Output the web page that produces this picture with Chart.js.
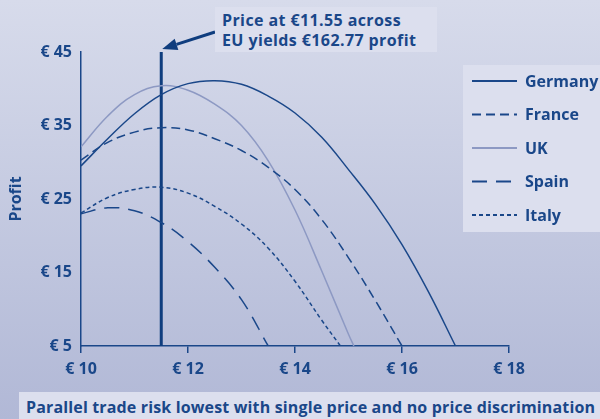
<!DOCTYPE html>
<html>
<head>
<meta charset="utf-8">
<script src="https://cdn.jsdelivr.net/npm/chart.js@4"></script>
<style>
  body { margin: 0; }
  #wrap {
    position: relative; width: 600px; height: 419px; overflow: hidden;
    background: linear-gradient(to bottom, #d7dbeb, #b1b8d6);
    font-family: "Open Sans", sans-serif; font-weight: 700; color: #1a4789;
  }
  #wrap canvas { position: absolute; left: 0; top: 0; }
  .note {
    position: absolute; left: 215px; top: 7px; width: 215px; height: 42px;
    padding: 3px 0 0 7px; background: #dcdfee; font-size: 16px; line-height: 20px;
    letter-spacing: 0.4px;
  }
  .caption {
    position: absolute; left: 19px; top: 392px; width: 574px; height: 25px;
    padding: 2px 0 0 7px; background: #dcdfee; font-size: 16px; line-height: 27px;
    white-space: nowrap; letter-spacing: 0.15px;
  }
</style>
</head>
<body>
<div id="wrap">
  <canvas id="myChart" width="600" height="419"></canvas>
  <div class="note">Price at €11.55 across<br>EU yields €162.77 profit</div>
  <div class="caption">Parallel trade risk lowest with single price and no price discrimination</div>
</div>
<script>
// values (price in €, profit in €)
const germanyPrice = [10, 10.5, 11, 11.5, 12, 12.5, 13, 13.5, 14, 14.5, 15, 15.5, 16, 16.5, 17];
const germanyProfit = [29.5, 33.2, 36.6, 39.2, 40.7, 41.1, 40.6, 39.0, 36.7, 33.4, 29.0, 24.3, 18.8, 12.3, 5];
const francePrice = [10, 10.5, 11, 11.5, 12, 12.5, 13, 13.5, 14, 14.5, 15, 15.5, 16];
const franceProfit = [30.3, 32.7, 34.1, 34.7, 34.4, 33.2, 31.6, 29.3, 26.3, 22.2, 17.0, 11.2, 5];
const ukPrice = [10, 10.5, 11, 11.5, 12, 12.5, 13, 13.5, 14, 14.5, 15, 15.1];
const ukProfit = [32.1, 36.3, 39.2, 40.4, 39.8, 37.9, 35.0, 30.2, 23.5, 15.2, 6.6, 5];
const spainPrice = [10, 10.5, 11, 11.5, 12, 12.5, 13, 13.5];
const spainProfit = [23.0, 23.8, 23.4, 21.8, 19.2, 15.7, 11.3, 5];
const italyPrice = [10, 10.5, 11, 11.5, 12, 12.5, 13, 13.5, 14, 14.5, 14.85];
const italyProfit = [23.1, 25.2, 26.3, 26.6, 25.8, 24.0, 21.6, 18.3, 13.8, 8.5, 5];
const singlePrice = 11.5;
const xTicks = [10, 12, 14, 16, 18];
const yTicks = [5, 15, 25, 35, 45];

const BLUE = '#1a4789';
const UK_BLUE = '#8d99c3';
const BOX = '#dcdfee';
const FONT = { family: '"Open Sans", sans-serif', weight: 'bold', size: 16 };

function pts(xs, ys) {
  return xs.map((x, i) => ({ x: x, y: ys[i] }));
}

function series(label, xs, ys, color, dash) {
  return {
    label: label,
    data: pts(xs, ys),
    borderColor: color,
    borderWidth: 1.5,
    borderDash: dash,
    pointRadius: 0,
    fill: false,
    tension: 0.4
  };
}

const datasets = [
  series('Germany', germanyPrice, germanyProfit, BLUE, []),
  series('France', francePrice, franceProfit, BLUE, [9, 5]),
  series('UK', ukPrice, ukProfit, UK_BLUE, []),
  series('Spain', spainPrice, spainProfit, BLUE, [15, 9]),
  series('Italy', italyPrice, italyProfit, BLUE, [4, 3]),
  {
    label: '',
    data: [{ x: singlePrice, y: yTicks[yTicks.length - 1] }, { x: singlePrice, y: yTicks[0] }],
    borderColor: '#0f3d7e',
    borderWidth: 3,
    pointRadius: 0,
    fill: false
  }
];

// legend box drawn on the right, over the plot
const sideLegend = {
  id: 'sideLegend',
  afterDraw(chart) {
    const c = chart.ctx;
    c.save();
    c.fillStyle = BOX;
    c.fillRect(463, 65, 137, 167);
    chart.data.datasets.forEach((ds, i) => {
      if (!ds.label) return;
      const y = 81 + i * 33.5;
      c.strokeStyle = ds.borderColor;
      c.lineWidth = 2;
      c.setLineDash(ds.borderDash || []);
      c.beginPath();
      c.moveTo(472, y);
      c.lineTo(517, y);
      c.stroke();
      c.setLineDash([]);
      c.fillStyle = BLUE;
      c.font = 'bold 16px "Open Sans"';
      c.textBaseline = 'middle';
      c.fillText(ds.label, 525, y + 1);
    });
    c.restore();
  }
};

// arrow from the note to the top of the single price line
const arrow = {
  id: 'arrow',
  afterDraw(chart) {
    const c = chart.ctx;
    const tx = chart.scales.x.getPixelForValue(singlePrice) + 1;
    const ty = chart.scales.y.getPixelForValue(yTicks[yTicks.length - 1]) - 3;
    const sx = 215, sy = 32;
    const ang = Math.atan2(ty - sy, tx - sx);
    const hx = tx - 15 * Math.cos(ang), hy = ty - 15 * Math.sin(ang);
    c.save();
    c.strokeStyle = '#0f3d7e';
    c.fillStyle = '#0f3d7e';
    c.lineWidth = 3;
    c.beginPath();
    c.moveTo(sx, sy);
    c.lineTo(hx, hy);
    c.stroke();
    c.beginPath();
    c.moveTo(tx, ty);
    c.lineTo(hx - 6 * Math.sin(ang), hy + 6 * Math.cos(ang));
    c.lineTo(hx + 6 * Math.sin(ang), hy - 6 * Math.cos(ang));
    c.closePath();
    c.fill();
    c.restore();
  }
};

const config = {
  type: 'line',
  data: { datasets: datasets },
  options: {
    responsive: false,
    animation: false,
    layout: { padding: { top: 52, right: 91, bottom: 0, left: 0 } },
    plugins: { legend: { display: false }, tooltip: { enabled: false } },
    scales: {
      x: {
        type: 'linear',
        min: xTicks[0],
        max: xTicks[xTicks.length - 1],
        afterBuildTicks: s => { s.ticks = xTicks.map(v => ({ value: v })); },
        afterFit: s => { s.height = 73; },
        ticks: { callback: v => '€ ' + v, color: BLUE, font: FONT, padding: 7, maxRotation: 0 },
        grid: { drawOnChartArea: false, drawTicks: true, tickLength: 7, color: BLUE, lineWidth: 1.5 },
        border: { color: BLUE, width: 1.5 }
      },
      y: {
        min: yTicks[0],
        max: yTicks[yTicks.length - 1],
        afterBuildTicks: s => { s.ticks = yTicks.map(v => ({ value: v })); },
        afterFit: s => { s.width = 81; },
        ticks: { callback: v => '€ ' + v, color: BLUE, font: FONT, padding: 9 },
        grid: { drawOnChartArea: false, drawTicks: false },
        border: { color: BLUE, width: 1.5 },
        title: { display: true, text: 'Profit', color: BLUE, font: FONT, padding: { top: 7, bottom: 0 } }
      }
    }
  },
  plugins: [sideLegend, arrow]
};

const myChart = new Chart(document.getElementById('myChart'), config);
</script>
</body>
</html>
